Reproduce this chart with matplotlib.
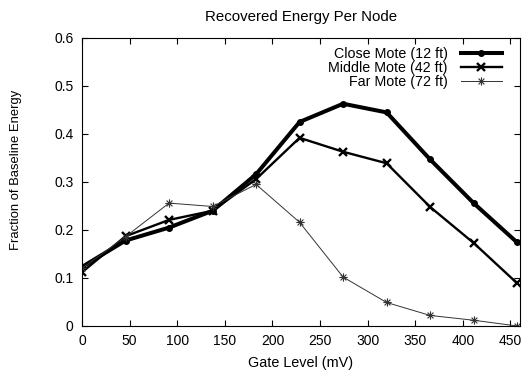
import matplotlib
matplotlib.use("Agg")
import matplotlib.pyplot as plt
from matplotlib.path import Path

plt.rcParams['font.family'] = ['Liberation Sans', 'DejaVu Sans']
plt.rcParams['font.size'] = 10

# gate level (mV)
gate = [0, 45.7, 91.4, 137.1, 182.8, 228.5, 274.2, 319.9, 365.6, 411.3, 457]
close_mote = [0.123, 0.178, 0.205, 0.240, 0.316, 0.425, 0.463, 0.445, 0.347, 0.256, 0.174]
middle_mote = [0.112, 0.187, 0.221, 0.240, 0.306, 0.392, 0.363, 0.339, 0.248, 0.173, 0.089]
far_mote = [0.120, 0.186, 0.256, 0.249, 0.295, 0.216, 0.102, 0.049, 0.022, 0.012, 0.0]

labels = ["Close Mote (12 ft)", "Middle Mote (42 ft)", "Far Mote (72 ft)"]

# gnuplot style star: plus and cross together
star = Path([(-1, 0), (1, 0), (0, -1), (0, 1), (-0.7, -0.7), (0.7, 0.7), (-0.7, 0.7), (0.7, -0.7)],
            [Path.MOVETO, Path.LINETO] * 4)

fig = plt.figure(figsize=(5.26, 3.71), dpi=100)
ax = fig.add_axes([0.1559, 0.1213, 0.8327, 0.7763])

ax.plot(gate, close_mote, color='black', lw=2.9, marker='o', ms=4, label=labels[0])
ax.plot(gate, middle_mote, color='black', lw=1.7, marker='x', ms=6, mew=1.7, label=labels[1])
ax.plot(gate, far_mote, color='#333333', lw=0.7, marker=star, ms=6, mew=0.8, mfc='none', label=labels[2])

ax.set_xlim(0, 460)
ax.set_ylim(0, 0.6)
ax.set_xticks(range(0, 451, 50))
ax.set_yticks([0, 0.1, 0.2, 0.3, 0.4, 0.5, 0.6])
ax.set_yticklabels(["0", "0.1", "0.2", "0.3", "0.4", "0.5", "0.6"])
ax.tick_params(direction='in', top=True, right=True, length=4, width=0.8, pad=6)
for s in ax.spines.values():
    s.set_linewidth(0.8)

ax.set_title("Recovered Energy Per Node", fontsize=10.8, pad=12)
ax.set_xlabel("Gate Level (mV)", fontsize=10.4, labelpad=5.5)
ax.set_ylabel("Fraction of Baseline Energy", fontsize=9.4)
ax.yaxis.set_label_coords(-0.137, 0.542)

ax.legend(loc='upper right', bbox_to_anchor=(0.959, 0.968), frameon=False, markerfirst=False,
          fontsize=10.3, handlelength=2.9, handletextpad=0.9, labelspacing=0.0,
          borderpad=0, borderaxespad=0)

fig.savefig("out.png", dpi=100)
